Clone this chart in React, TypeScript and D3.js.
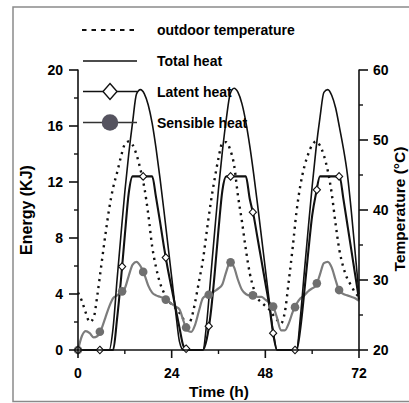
import React from 'react';
import * as d3 from 'd3';

// hourly values, t = 0..72 h
const totalHeat = [
  0, 0, 0, 0, 0, 0, 0, 0, 0, 1.6, 5.0, 8.2, 11.3, 14.0, 16.3, 18.3, 18.6, 18.3, 17.5, 16.2, 14.4, 12.3, 10.0, 7.6, 5.2, 2.8, 0.6,
  0, 0, 0, 0, 0, 0, 2.0, 5.2, 8.4, 11.5, 14.2, 16.5, 18.3, 18.7, 18.4, 17.6, 16.3, 14.6, 12.6, 10.4, 8.1, 5.8, 3.5, 1.3,
  0, 0, 0, 0, 0, 0, 2.4, 5.6, 8.7, 11.7, 14.4, 16.6, 18.4, 18.6, 18.2, 17.3, 15.9, 14.4, 12.6, 10.0, 7.0, 4.0,
];
const latentHeat = [
  0, 0, 0, 0, 0, 0, 0, 0, 0, 0, 2.2, 5.0, 8.2, 11.2, 12.4, 12.4, 12.4, 12.4, 12.4, 12.4, 10.9, 9.2, 7.4, 5.8, 4.4, 3.0, 1.6, 0.3,
  0, 0, 0, 0, 0, 0.8, 2.6, 5.4, 8.6, 11.4, 12.4, 12.4, 12.4, 12.4, 12.4, 12.4, 10.8, 9.6, 8.0, 6.4, 4.8, 3.2, 1.2,
  0, 0, 0, 0, 0, 0, 1.6, 4.2, 7.0, 9.6, 11.2, 12.4, 12.4, 12.4, 12.4, 12.4, 12.4, 10.8, 9.0, 7.2, 5.4, 3.6,
];
const sensibleHeat = [
  0, 1.0, 1.35, 1.2, 0.9, 1.0, 1.5, 2.3, 3.1, 3.7, 3.9, 4.1, 4.4, 5.3, 6.1, 6.3, 6.0, 5.4, 4.6, 4.1, 3.9, 3.8, 3.7, 3.5, 3.3,
  3.1, 2.9, 2.1, 1.4, 1.3, 1.8, 2.8, 3.7, 3.9, 4.0, 4.2, 4.4, 4.7, 5.6, 6.3, 5.9, 5.0, 4.3, 4.0, 3.9, 3.9, 3.8, 3.8, 3.6,
  3.4, 3.1, 2.3, 1.4, 1.4, 1.9, 2.7, 3.3, 3.7, 3.9, 4.2, 4.4, 4.6, 5.4, 6.2, 6.3, 5.9, 5.0, 4.2, 4.0, 3.9, 3.8, 3.7, 3.5,
];
const outdoorTemp = [
  28.2, 27.0, 25.3, 24.0, 24.6, 28.0, 32.2, 36.4, 40.2, 43.2, 45.3, 47.6, 49.4, 49.8, 49.3, 47.9, 45.8, 43.2, 39.4, 34.8, 31.8,
  29.6, 28.2, 27.2, 26.5, 26.0, 25.3, 24.4, 23.6, 24.4, 26.8, 29.8, 32.8, 37.0, 41.0, 44.4, 47.4, 49.6, 49.7, 48.6, 46.4, 42.0,
  38.4, 34.4, 31.0, 28.8, 27.4, 26.8, 26.3, 25.8, 25.0, 24.3, 23.8, 25.4, 29.8, 34.6, 39.8, 43.6, 46.2, 48.0, 49.3, 49.8, 49.2,
  47.8, 45.6, 42.4, 38.0, 34.2, 31.8, 30.2, 29.2, 28.2, 27.6,
];
// times (h) where the symbols sit
const markerTimes = [0, 5.6, 11.3, 16.7, 22.5, 27.7, 33.5, 39.1, 44.8, 50, 55.6, 61.2, 66.9];

const energyTicks = [0, 4, 8, 12, 16, 20];
const energyMinor = [2, 6, 10, 14, 18];
const tempTicks = [20, 30, 40, 50, 60];
const tempMinor = [25, 35, 45, 55];
const timeTicks = [0, 24, 48, 72];
const timeMinor = [12, 36, 60];

const legendItems = ['outdoor temperature', 'Total heat', 'Latent heat', 'Sensible heat'];

const font = '"Liberation Sans", Arial, sans-serif';

function valueAt(series: number[], t: number) {
  const i = Math.floor(t);
  const f = t - i;
  const j = Math.min(i + 1, series.length - 1);
  return series[i] * (1 - f) + series[j] * f;
}

export default function App() {
  const x = d3.scaleLinear().domain([0, 72]).range([78, 359]);
  const yL = d3.scaleLinear().domain([0, 20]).range([350, 70]);
  const yR = d3.scaleLinear().domain([20, 60]).range([350, 70]);

  const lineL = d3
    .line<number>()
    .x((_, i) => x(i))
    .y((d) => yL(d))
    .curve(d3.curveMonotoneX);
  const lineR = d3
    .line<number>()
    .x((_, i) => x(i))
    .y((d) => yR(d))
    .curve(d3.curveMonotoneX);

  const diamond = (cx: number, cy: number, rx: number, ry: number) =>
    `M${cx},${cy - ry}L${cx + rx},${cy}L${cx},${cy + ry}L${cx - rx},${cy}Z`;

  const legendY = [30, 61, 91.5, 122.5];

  return (
    <svg
      width={409}
      height={403}
      style={{ position: 'absolute', left: 0, top: 0, background: '#fff' }}
      fontFamily={font}
      fontWeight="bold"
    >
      <rect x={13} y={7} width={400} height={394.5} fill="none" stroke="#8a8a8a" strokeWidth={1.5} />

      {/* curves */}
      <path d={lineR(outdoorTemp) || ''} fill="none" stroke="#111" strokeWidth={2.4} strokeDasharray="2.2 4.6" />
      <path d={lineL(sensibleHeat) || ''} fill="none" stroke="#7c7c7c" strokeWidth={2.2} />
      <path d={lineL(totalHeat) || ''} fill="none" stroke="#111" strokeWidth={1.6} />
      <path d={lineL(latentHeat) || ''} fill="none" stroke="#111" strokeWidth={2.1} />
      {markerTimes.map((t, i) => (
        <circle key={'s' + i} cx={x(t)} cy={yL(valueAt(sensibleHeat, t))} r={4.3} fill="#6f6f6f" />
      ))}
      {markerTimes.map((t, i) => (
        <path
          key={'l' + i}
          d={diamond(x(t), yL(valueAt(latentHeat, t)), 3.6, 3.8)}
          fill="#fff"
          stroke="#111"
          strokeWidth={1.1}
        />
      ))}

      {/* left axis */}
      <line x1={78} x2={78} y1={69.5} y2={350} stroke="#111" strokeWidth={1.6} />
      {energyTicks.map((v) => (
        <g key={'e' + v}>
          <line x1={69} x2={78} y1={yL(v)} y2={yL(v)} stroke="#111" strokeWidth={1.6} />
          <text x={63} y={yL(v) + 5} textAnchor="end" fontSize={14}>
            {v}
          </text>
        </g>
      ))}
      {energyMinor.map((v) => (
        <line key={'em' + v} x1={74} x2={78} y1={yL(v)} y2={yL(v)} stroke="#111" strokeWidth={1.4} />
      ))}

      {/* right axis */}
      <line x1={359} x2={359} y1={69.5} y2={350} stroke="#111" strokeWidth={1.6} />
      {tempTicks.map((v) => (
        <g key={'t' + v}>
          <line x1={359} x2={368} y1={yR(v)} y2={yR(v)} stroke="#111" strokeWidth={1.6} />
          <text x={373} y={yR(v) + 5} fontSize={14}>
            {v}
          </text>
        </g>
      ))}
      {tempMinor.map((v) => (
        <line key={'tm' + v} x1={359} x2={363} y1={yR(v)} y2={yR(v)} stroke="#111" strokeWidth={1.4} />
      ))}

      {/* bottom axis */}
      <line x1={77.2} x2={359.8} y1={350} y2={350} stroke="#111" strokeWidth={1.6} />
      {timeTicks.map((v) => (
        <g key={'h' + v}>
          <line x1={x(v)} x2={x(v)} y1={350} y2={358} stroke="#111" strokeWidth={1.6} />
          <text x={x(v)} y={378} textAnchor="middle" fontSize={14}>
            {v}
          </text>
        </g>
      ))}
      {timeMinor.map((v) => (
        <line key={'hm' + v} x1={x(v)} x2={x(v)} y1={350} y2={354} stroke="#111" strokeWidth={1.4} />
      ))}

      <text x={219} y={397} textAnchor="middle" fontSize={15.5}>
        Time (h)
      </text>
      <text transform="translate(32,210) rotate(-90)" textAnchor="middle" fontSize={16}>
        Energy (KJ)
      </text>
      <text transform="translate(404.5,209) rotate(-90)" textAnchor="middle" fontSize={15.5}>
        Temperature (°C)
      </text>

      {/* legend */}
      <line x1={82} x2={137} y1={legendY[0]} y2={legendY[0]} stroke="#111" strokeWidth={1.8} strokeDasharray="4.5 5" />
      <line x1={83} x2={137} y1={legendY[1]} y2={legendY[1]} stroke="#111" strokeWidth={1.6} />
      <line x1={83} x2={137} y1={legendY[2]} y2={legendY[2]} stroke="#111" strokeWidth={1.6} />
      <path d={diamond(110, legendY[2], 7, 8)} fill="#fff" stroke="#111" strokeWidth={1.4} />
      <line x1={83} x2={137} y1={legendY[3]} y2={legendY[3]} stroke="#333" strokeWidth={1.3} />
      <circle cx={110} cy={legendY[3]} r={8.3} fill="#55535f" />
      {legendItems.map((s, i) => (
        <text key={s} x={157} y={legendY[i] + 5} fontSize={14}>
          {s}
        </text>
      ))}
    </svg>
  );
}
